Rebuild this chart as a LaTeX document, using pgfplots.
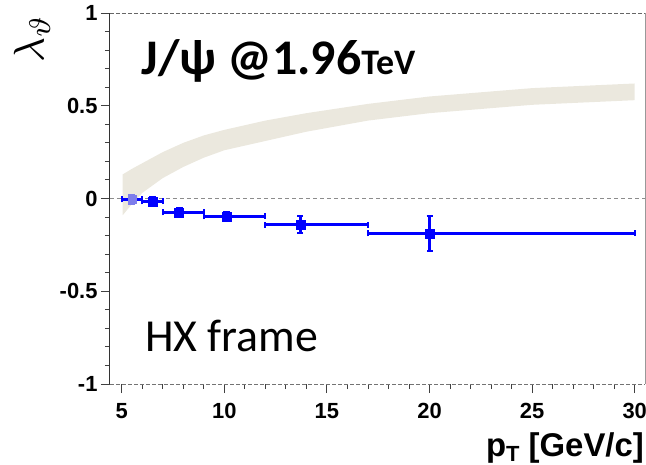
\documentclass[border=0pt]{standalone}
\usepackage{graphicx}
\usepackage{pgfplots}
\pgfplotsset{compat=1.18}
\usepackage{fontspec}
\setmainfont{Liberation Sans}
\newfontfamily\calibri{Carlito}
\usetikzlibrary{calc}
\definecolor{band}{RGB}{235,232,222}
\definecolor{ptblue}{RGB}{0,0,255}
\definecolor{ltblue}{RGB}{125,125,235}

\pgfplotstableread{
x     y       xm   xp   ym    yp
6.5   -0.015  0.5  0.5  0.02  0.02
7.8   -0.075  0.8  1.2  0.02  0.02
10.1  -0.097  1.1  1.9  0.02  0.02
13.7  -0.142  1.7  3.3  0.045 0.045
20.0  -0.188  3.0  10.0 0.093 0.093
}\data

\begin{document}
\begin{tikzpicture}
\begin{axis}[
  scale only axis, width=535bp, height=371bp,
  xmin=4.43, xmax=30.5, ymin=-1, ymax=1,
  axis lines=left, axis line style={-},
  x axis line style={draw=black!55, line width=0.9bp, dash pattern=on 4bp off 2bp},
  y axis line style={draw=black!80, line width=1bp},
  xtick={5,10,...,30}, minor xtick={6,7,8,9,11,12,13,14,16,17,18,19,21,22,23,24,26,27,28,29},
  ytick={-1,-0.5,0,0.5,1},
  minor ytick={-0.9,-0.8,-0.7,-0.6,-0.4,-0.3,-0.2,-0.1,0.1,0.2,0.3,0.4,0.6,0.7,0.8,0.9},
  tick align=outside, major tick length=9bp, minor tick length=5bp,
  tick style={black!75, line width=0.9bp},
  /pgf/number format/assume math mode=true,
  ticklabel style={font=\fontsize{22}{22}\selectfont\bfseries},
  xticklabel style={yshift=-7bp},
  clip=false,
]
% band
\addplot[fill=band, draw=none] coordinates {
 (5.05,0.13) (5.5,0.16) (6,0.19) (7,0.25) (8,0.30) (9,0.34) (10,0.37) (12,0.42) (14,0.46) (17,0.51) (20,0.55) (25,0.595) (30,0.62)
 (30,0.53) (25,0.505) (20,0.46) (17,0.42) (14,0.36) (12,0.31) (10,0.26) (9,0.22) (8,0.17) (7,0.11) (6,0.03) (5.5,-0.03) (5.05,-0.09)
} -- cycle;
% zero line
\draw[black!45, line width=0.8bp, dash pattern=on 4bp off 3bp] (axis cs:4.43,0) -- (axis cs:30.5,0);
% top and right border
\draw[black!60, line width=0.9bp, dash pattern=on 4bp off 2bp] (rel axis cs:0,1) -- (rel axis cs:1,1);
\draw[black!40, line width=0.9bp] (rel axis cs:1,0) -- (rel axis cs:1,1);
% first point
\addplot[only marks, mark=square*, mark size=4bp, color=ltblue,
  error bars/.cd, x dir=both, x explicit, y dir=both, y explicit,
  error bar style={line width=3bp, color=ptblue},
  error mark options={rotate=90, line width=2bp, mark size=3bp, color=ptblue}]
  coordinates {(5.5,-0.005) +- (0.5,0.0)};
\addplot[only marks, mark=none, color=ltblue,
  error bars/.cd, y dir=both, y explicit, error mark=none,
  error bar style={line width=7bp, color=ltblue}]
  coordinates {(5.5,-0.005) +- (0,0.028)};
% other points: thick short bars
\addplot[only marks, mark=none, color=ptblue,
  error bars/.cd, y dir=both, y explicit, error mark=none,
  error bar style={line width=7bp}]
  coordinates {(6.5,-0.015) +- (0,0.028) (7.8,-0.075) +- (0,0.028) (10.1,-0.097) +- (0,0.028)};
% other points
\addplot[only marks, mark=square*, mark size=4.5bp, color=ptblue,
  error bars/.cd, x dir=both, x explicit, y dir=both, y explicit,
  error bar style={line width=3bp},
  error mark options={rotate=90, line width=2bp, mark size=3bp}]
  table[x=x, y=y, x error plus=xp, x error minus=xm, y error plus=yp, y error minus=ym] {\data};

\node[anchor=base west, inner sep=0, font=\calibri\bfseries\fontsize{50}{50}\selectfont]
  at (rel axis cs:0.059,0.833) {J/ψ @1.96{\fontsize{36}{36}\selectfont TeV}};
\node[anchor=base west, inner sep=0, font=\calibri\fontsize{46}{46}\selectfont]
  at (rel axis cs:0.0654,0.087) {HX frame};
\coordinate (ll) at (rel axis cs:0,0);
\coordinate (ur) at (rel axis cs:1,1);
\coordinate (tl) at (rel axis cs:0,1);
\coordinate (br) at (rel axis cs:1,0);
\end{axis}
\node[rotate=90, anchor=east, inner sep=0] at ($(tl)+(-78bp,-1bp)$)
  {\scalebox{4.3}{$\lambda_\vartheta$}};
\node[anchor=base east, inner sep=0] at ($(br)+(-1bp,-72bp)$)
  {\bfseries\fontsize{33}{33}\selectfont p\raisebox{-0.18em}{\fontsize{22}{22}\selectfont T} [GeV/c]};
\pgfresetboundingbox
\path ($(ll)+(-110bp,-81bp)$) rectangle ($(ur)+(1bp,13bp)$);
\end{tikzpicture}
\end{document}
